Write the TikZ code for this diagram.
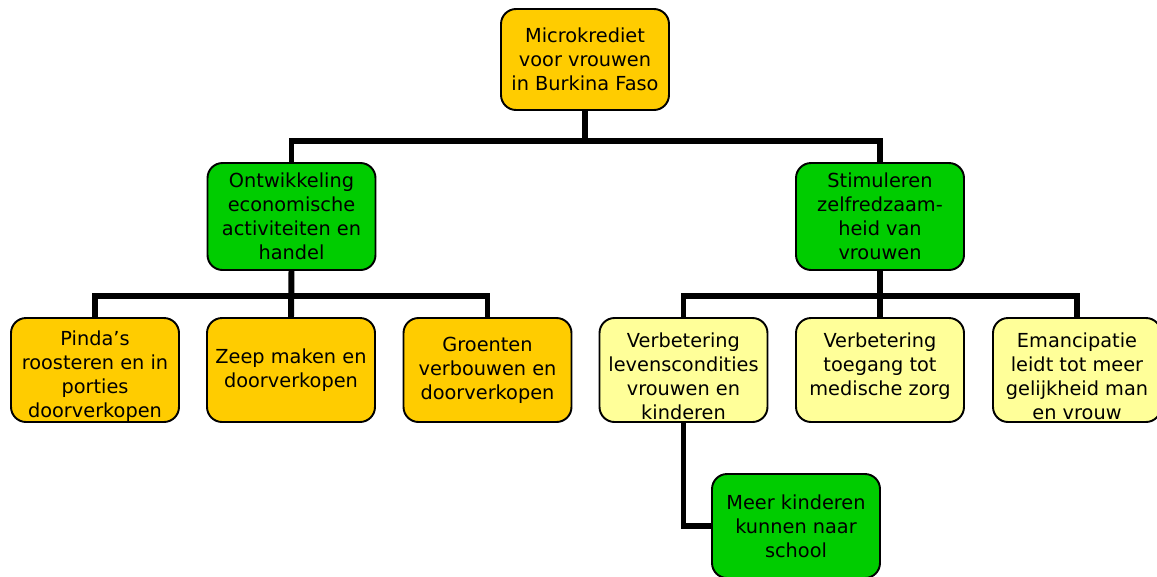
\documentclass[tikz,border=0pt]{standalone}
\usepackage{fontspec}
\setmainfont{DejaVu Sans}
\definecolor{gold}{HTML}{FFCC00}
\definecolor{leaf}{HTML}{00CC00}
\definecolor{pale}{HTML}{FFFF99}
\tikzset{
  box/.style={draw,line width=1.1pt,rounded corners=0.3cm,align=center,
    minimum width=3.36cm,minimum height=2.08cm,inner sep=2pt,
    font=\fontsize{11}{13.7}\selectfont},
  cut/.style={path picture={\node[align=center,inner sep=0pt,yshift=-0.12cm,
    font=\fontsize{11}{13.7}\selectfont]
    at (path picture bounding box.center) {#1};}},
  drop/.style={to path={-- ++(0,#1) -| (\tikztotarget)}}
}
\begin{document}
\begin{tikzpicture}[x=0.02cm,y=-0.02cm]
        \useasboundingbox (0,0) rectangle (1157,576);

        \node[box,fill=gold,minimum height=2.02cm] (1) at (585,59.5) {Microkrediet\\voor vrouwen\\in Burkina Faso};
        \node[box,fill=leaf,minimum height=2.14cm] (2) at (291.5,216.5) {Ontwikkeling\\economische\\activiteiten en\\handel};
        \node[box,fill=leaf,minimum height=2.14cm] (3) at (880,216.5) {Stimuleren\\zelfredzaam-\\heid van\\vrouwen};
        \node[box,fill=gold,cut={Pinda’s\\roosteren en in\\porties\\doorverkopen}] (4) at (95,370) {};
        \node[box,fill=gold] (5) at (291,370) {Zeep maken en\\doorverkopen};
        \node[box,fill=gold] (6) at (487.5,370) {Groenten\\verbouwen en\\doorverkopen};
        \node[box,fill=pale,cut={Verbetering\\levenscondities\\vrouwen en\\kinderen}] (7) at (683.5,370) {};
        \node[box,fill=pale,cut={Verbetering\\toegang tot\\medische zorg\\~}] (8) at (880,370) {};
        \node[box,fill=pale,cut={Emancipatie\\leidt tot meer\\gelijkheid man\\en vrouw}] (9) at (1077,370) {};
        \node[box,fill=leaf] (10) at (796,526) {Meer kinderen\\kunnen naar\\school};

        \begin{scope}[every edge/.style={draw,line width=3.4pt}]
          \path (1.south) edge[drop=30] (2.north);
          \path (1.south) edge[drop=30] (3.north);
          \path (2.south) edge[drop=25] (4.north);
          \path (2.south) edge (5.north);
          \path (2.south) edge[drop=25] (6.north);
          \path (3.south) edge[drop=25] (7.north);
          \path (3.south) edge (8.north);
          \path (3.south) edge[drop=25] (9.north);
          \path (7.south) edge[to path={|- (\tikztotarget)}] (10.west);
        \end{scope}

      \end{tikzpicture}
\end{document}
